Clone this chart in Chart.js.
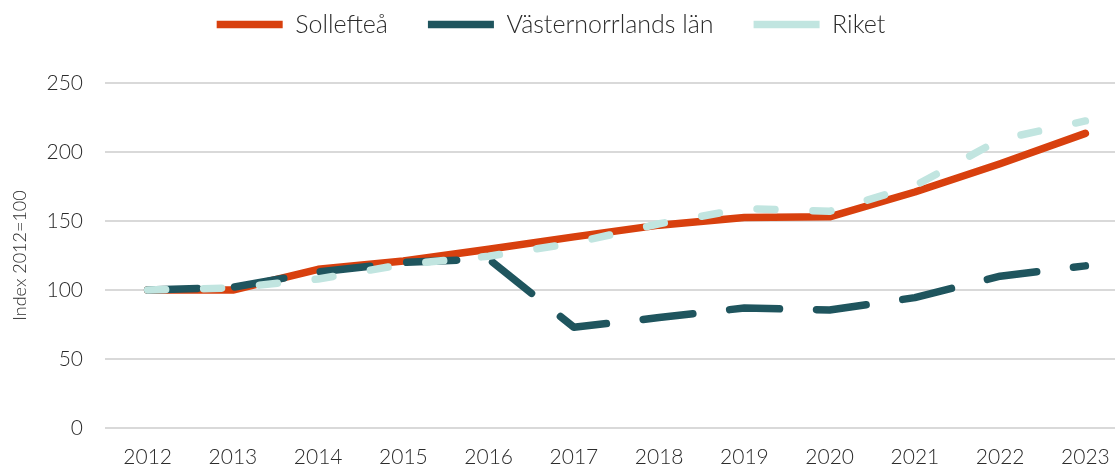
<!DOCTYPE html>
<html>
<head>
<meta charset="utf-8">
<script src="https://cdn.jsdelivr.net/npm/chart.js@4/dist/chart.umd.min.js"></script>
<style>
  html, body { margin: 0; padding: 0; background: #fff; overflow: hidden; }
  #wrap { width: 1128px; height: 468px; }
</style>
</head>
<body>
<div id="wrap"><canvas id="myChart" width="1128" height="468"></canvas></div>
<script>
// data (index 2012 = 100)
var years = ['2012', '2013', '2014', '2015', '2016', '2017', '2018', '2019', '2020', '2021', '2022', '2023'];
var solleftea = [100, 100, 115, 121, 129.5, 138.5, 147, 152.5, 153, 171, 191.5, 213.5];
var vasternorrland = [100, 102, 113, 120, 122.5, 73, 80, 87, 85.5, 94.5, 110, 117.5];
var riket = [100, 101.5, 108, 118.5, 124.5, 134, 148, 159, 157, 175.5, 209, 222.5];
var yTicks = [0, 50, 100, 150, 200, 250];

var FONT = 'Lato, "Open Sans", sans-serif';
var TEXT_COLOR = '#2b2b2b';

// legend: fixed height so the plot starts where the reference does,
// and nudged a bit left (the canvas is wider than the window)
var legendHeightPlugin = {
    id: 'legendHeight',
    beforeInit: function(chart) {
        var origFit = chart.legend.fit;
        var origDraw = chart.legend.draw;
        chart.legend.fit = function() {
            origFit.call(this);
            this.height = 111;
        };
        chart.legend.draw = function() {
            var c = this.ctx;
            c.save();
            c.translate(-13, 0);
            origDraw.call(this);
            c.restore();
        };
    }
};

var ctx = document.getElementById('myChart').getContext('2d');
new Chart(ctx, {
    type: 'line',
    data: {
        labels: years,
        datasets: [
            { label: 'Sollefteå', data: solleftea, borderColor: '#D8400E', backgroundColor: '#D8400E',
              borderWidth: 7.5, borderCapStyle: 'round', borderJoinStyle: 'round', pointRadius: 0, tension: 0, order: 3 },
            { label: 'Västernorrlands län', data: vasternorrland, borderColor: '#1F555E', backgroundColor: '#1F555E',
              borderWidth: 7.5, borderDash: [50, 37], borderCapStyle: 'round', borderJoinStyle: 'round', pointRadius: 0, tension: 0, order: 2 },
            { label: 'Riket', data: riket, borderColor: '#C1E5E0', backgroundColor: '#C1E5E0',
              borderWidth: 7.5, borderDash: [18, 38], borderCapStyle: 'round', borderJoinStyle: 'round', pointRadius: 0, tension: 0, order: 1 }
        ]
    },
    options: {
        responsive: false,
        animation: false,
        layout: { padding: { top: -28, left: 0, right: 0, bottom: 0 } },
        plugins: {
            legend: {
                position: 'top',
                labels: {
                    usePointStyle: true,
                    pointStyle: 'line',
                    pointStyleWidth: 66,
                    padding: 40,
                    color: TEXT_COLOR,
                    font: { family: FONT, size: 25, weight: '300' },
                    sort: function(a, b) { return a.datasetIndex - b.datasetIndex; }
                }
            },
            tooltip: { enabled: false }
        },
        scales: {
            x: {
                offset: true,
                grid: { display: false, drawTicks: false },
                border: { display: false },
                ticks: { color: TEXT_COLOR, padding: 17, maxRotation: 0, font: { family: FONT, size: 21, weight: '300' } },
                afterFit: function(scale) { scale.height = 40; }
            },
            y: {
                min: 0,
                max: 250,
                afterBuildTicks: function(scale) {
                    scale.ticks = yTicks.map(function(v) { return { value: v }; });
                },
                grid: { color: '#d9d9d9', lineWidth: 2, drawTicks: false },
                border: { display: false },
                ticks: { color: TEXT_COLOR, padding: 22, font: { family: FONT, size: 21, weight: '300' } },
                title: {
                    display: true,
                    text: 'Index 2012=100',
                    color: TEXT_COLOR,
                    padding: { top: 9, bottom: 0 },
                    font: { family: FONT, size: 18, weight: '300' }
                },
                afterFit: function(scale) { scale.width = 105; }
            }
        }
    },
    plugins: [legendHeightPlugin]
});
</script>
</body>
</html>
